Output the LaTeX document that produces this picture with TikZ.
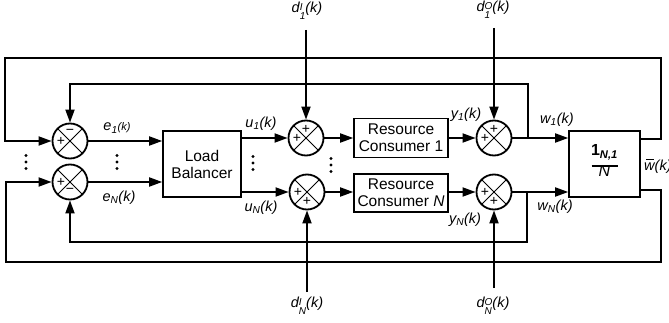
\documentclass[tikz,border=0pt]{standalone}
\usepackage{fontspec}
\setmainfont{Liberation Sans}
\usetikzlibrary{arrows.meta,calc}
\newcommand{\ssb}[2]{\raisebox{-3.2pt}{\fontsize{10}{8.5}\selectfont\begin{tabular}{@{}l@{}}#1\\#2\end{tabular}}}
\begin{document}
\begin{tikzpicture}[x=1pt,y=-1pt,
 every node/.style={font=\fontsize{15.5}{17}\selectfont},
 wire/.style={line width=1.8pt},
 arr/.style={wire,-{Triangle[length=13pt,width=9pt]}},
 sumc/.style={circle,draw,line width=1.8pt,minimum size=35pt,inner sep=0pt},
 blk/.style={draw,line width=1.6pt,inner sep=0pt,align=center},
 lbl/.style={font=\fontsize{14.5}{16}\selectfont\itshape,inner sep=0pt},
 sgn/.style={font=\fontsize{14}{14}\selectfont,inner sep=0pt},
 xl/.style={line width=0.8pt}
]
\useasboundingbox (0,0) rectangle (669,323);
% summing junctions
\node[sumc] (s1) at (70,141) {};
\node[sumc] (sN) at (70,182) {};
\node[sumc] (su1) at (306,138) {};
\node[sumc] (suN) at (307,192) {};
\node[sumc] (sy1) at (494,138) {};
\node[sumc] (syN) at (494,192) {};
\foreach \s in {s1,sN,su1,suN,sy1,syN}
  \draw[xl] (\s.45)--(\s.225) (\s.135)--(\s.315);
% signs
\node[sgn] at ([yshift=9pt]s1.center) {−};
\node[sgn] at ([xshift=-9pt]s1.center) {+};
\node[sgn] at ([xshift=-9pt]sN.center) {+};
\node[sgn] at ([yshift=-9pt]sN.center) {−};
\node[sgn] at ([yshift=9pt]su1.center) {+};
\node[sgn] at ([xshift=-9pt]su1.center) {+};
\node[sgn] at ([xshift=-9pt]suN.center) {+};
\node[sgn] at ([yshift=-9pt]suN.center) {+};
\node[sgn] at ([yshift=9pt]sy1.center) {+};
\node[sgn] at ([xshift=-9pt]sy1.center) {+};
\node[sgn] at ([xshift=-9pt]syN.center) {+};
\node[sgn] at ([yshift=-9pt]syN.center) {+};
% blocks
\node[blk,minimum width=78pt,minimum height=66pt] (lb) at (202,164) {Load\\Balancer};
\node[blk,minimum width=94pt,minimum height=39pt] (rc1) at (401,138) {Resource\\Consumer 1};
\node[blk,minimum width=94pt,minimum height=38pt] (rcN) at (401,193) {Resource\\Consumer \textit{N}};
\node[blk,minimum width=71pt,minimum height=66pt] (avg) at (604.5,164) {};
\node[font=\fontsize{16}{16}\selectfont] at ([yshift=1pt]avg.center) {\begin{tabular}{@{}c@{}}\textbf{1}\textsubscript{\textbf{\itshape N,1}}\\[-5pt]\rule{26pt}{1.4pt}\\[-6pt]\textit{N}\end{tabular}};
% forward wires
\draw[arr] (s1.east) -- (lb.west|-s1.east);
\draw[arr] (sN.east) -- (lb.west|-sN.east);
\draw[arr] (lb.east|-su1.west) -- (su1.west);
\draw[arr] (lb.east|-suN.west) -- (suN.west);
\draw[arr] (su1.east) -- (rc1.west|-su1.east);
\draw[arr] (suN.east) -- (rcN.west|-suN.east);
\draw[arr] (rc1.east|-sy1.west) -- (sy1.west);
\draw[arr] (rcN.east|-syN.west) -- (syN.west);
\draw[arr] (sy1.east) -- (avg.west|-sy1.east);
\draw[arr] (syN.east) -- (avg.west|-syN.east);
% feedback
\coordinate (j1) at (528,138);
\coordinate (jN) at (527,192);
\draw[arr] (j1) -- (528,84) -| (s1.north);
\draw[arr] (jN) -- (527,242) -| (sN.south);
\draw[arr] ([yshift=25pt]avg.east) -- (661,139) -- (661,58) -- (5,58) |- (s1.west);
\draw[arr] ([yshift=-26pt]avg.east) -- (661,190) -- (661,262) -- (6,262) |- (sN.west);
% disturbances
\node[lbl] (d1I) at (307,12) {d\ssb{I}{1}(k)};
\node[lbl] (d1O) at (493,11) {d\ssb{O}{1}(k)};
\node[lbl] (dNI) at (307,307) {d\ssb{I}{N}(k)};
\node[lbl] (dNO) at (493,307) {d\ssb{O}{N}(k)};
\coordinate (d1Is) at (306,30);
\coordinate (d1Os) at (494,28);
\coordinate (dNIs) at (307,292);
\coordinate (dNOs) at (494,288);
\draw[arr] (d1Is) -- (su1.north);
\draw[arr] (d1Os) -- (sy1.north);
\draw[arr] (dNIs) -- (suN.south);
\draw[arr] (dNOs) -- (syN.south);
% signal labels
\node[lbl] at (117,128) {e\textsubscript{1}{\fontsize{11}{11}\selectfont(k)}};
\node[lbl] at (119,198) {e\textsubscript{N}(k)};
\node[lbl] at (261,124) {u\textsubscript{1}(k)};
\node[lbl] at (261,208) {u\textsubscript{N}(k)};
\node[lbl] at (466,115) {y\textsubscript{1}(k)};
\node[lbl] at (465,220) {y\textsubscript{N}(k)};
\node[lbl] at (557,120) {w\textsubscript{1}(k)};
\node[lbl] at (555,207) {w\textsubscript{N}(k)};
\node[lbl,anchor=west] at (644,166) {\rlap{\kern2pt\rule[10pt]{7.5pt}{1.1pt}}w(k)};
% ellipsis dots
\foreach \x/\y in {26/162,117/162,253/163,331/165}
  \foreach \d in {-6.5,0,6.5}
    \fill (\x,\y+\d) circle (1.6);
\end{tikzpicture}
\end{document}
